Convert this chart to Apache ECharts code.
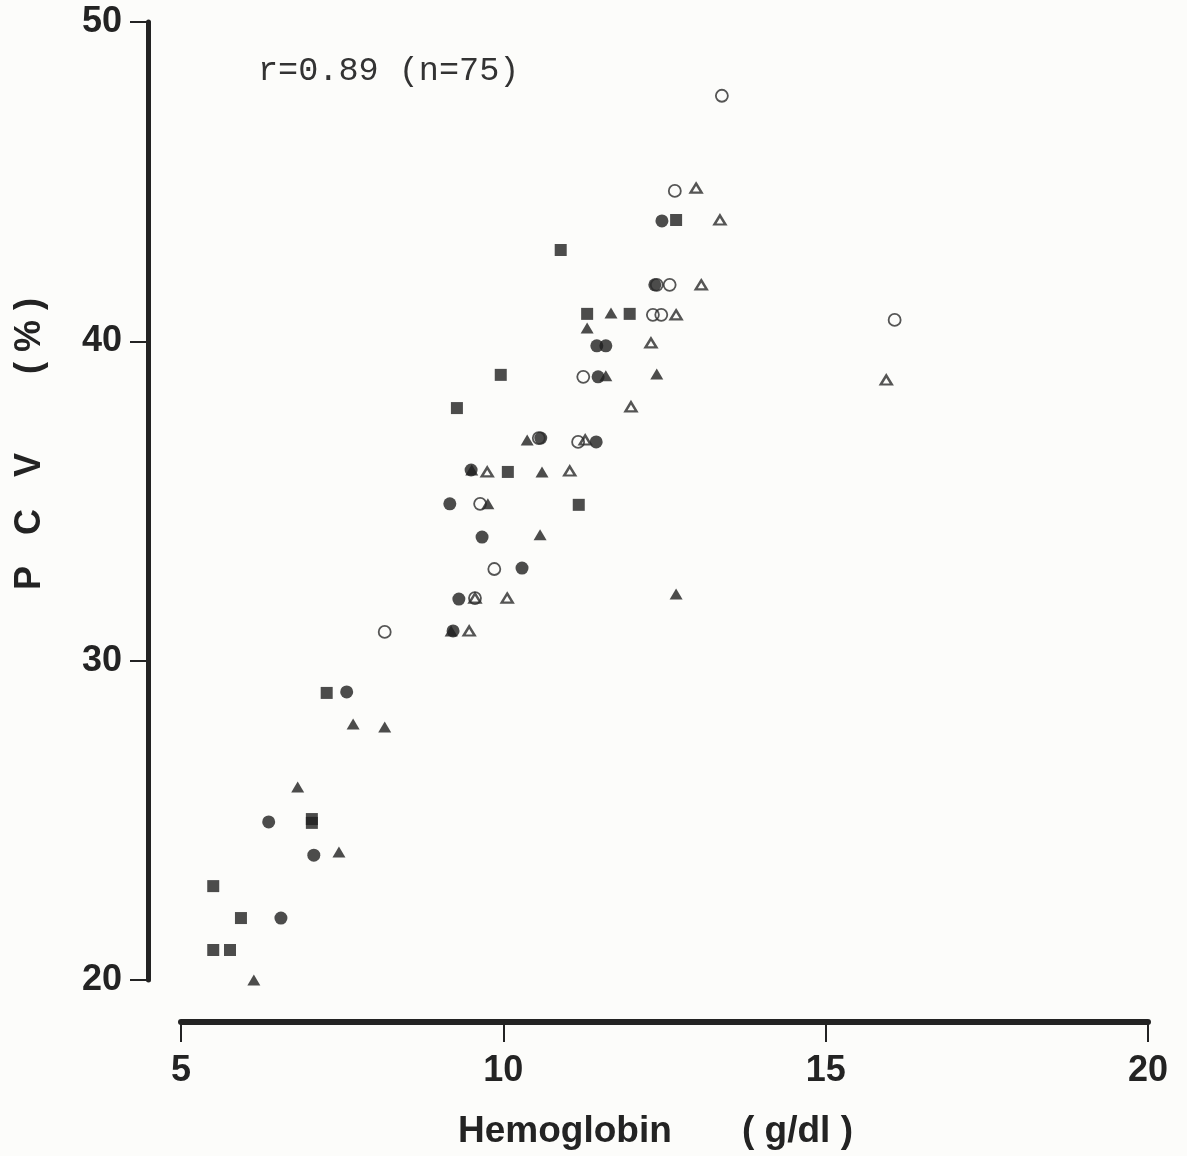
<!DOCTYPE html>
<html>
<head>
<meta charset="utf-8">
<script src="https://cdn.jsdelivr.net/npm/echarts@6/dist/echarts.min.js"></script>
<style>
  html, body { margin: 0; padding: 0; background: #fcfcfa; }
  #chart { width: 1187px; height: 1156px; }
</style>
</head>
<body>
<div id="chart"></div>
<script>
// Tick labels
const xTicks = [5, 10, 15, 20];
const yTicks = [20, 30, 40, 50];

// Filled squares
const sqHb  = [5.50, 5.50, 5.76, 5.93, 7.03, 7.03, 7.26, 9.28, 9.96, 10.07, 10.89, 11.17, 11.30, 11.96, 12.68];
const sqPcv = [22.94, 20.94, 20.94, 21.94, 25.04, 24.92, 28.99, 37.91, 38.95, 35.91, 42.86, 34.88, 40.86, 40.86, 43.80];

// Filled circles
const fcHb  = [6.36, 6.55, 7.06, 7.57, 9.17, 9.22, 9.31, 9.50, 9.67, 10.29, 10.58, 11.44, 11.45, 11.59, 11.47, 12.35, 12.46];
const fcPcv = [24.95, 21.94, 23.91, 29.02, 34.91, 30.93, 31.93, 35.97, 33.87, 32.90, 36.97, 36.85, 39.86, 39.86, 38.89, 41.77, 43.77];

// Filled triangles
const ftHb  = [6.13, 6.81, 7.45, 7.67, 8.16, 9.19, 9.51, 9.76, 10.37, 10.57, 10.60, 11.30, 11.59, 11.67, 12.38, 12.68];
const ftPcv = [20.00, 26.04, 24.01, 28.02, 27.92, 30.93, 35.97, 34.91, 36.91, 33.94, 35.91, 40.42, 38.92, 40.89, 38.98, 32.09];

// Open circles
const ocHb  = [8.16, 9.56, 9.64, 9.86, 10.55, 11.16, 11.24, 12.32, 12.45, 12.38, 12.58, 12.66, 13.39, 16.07];
const ocPcv = [30.90, 31.96, 34.91, 32.87, 36.97, 36.85, 38.89, 40.83, 40.83, 41.77, 41.77, 44.71, 47.69, 40.67];

// Open triangles
const otHb  = [9.47, 9.56, 9.75, 10.06, 11.03, 11.27, 11.98, 12.29, 12.68, 13.07, 12.99, 13.36, 15.94];
const otPcv = [30.93, 31.96, 35.91, 31.96, 35.94, 36.91, 37.95, 39.95, 40.83, 41.77, 44.80, 43.80, 38.79];

const annotation = 'r=0.89 (n=75)';

const zip = (a, b) => a.map((v, i) => [v, b[i]]);
const ink = '#232323';
const markInk = '#1f1f1f';
const labelFont = '"Liberation Sans", Arial, sans-serif';

const chart = echarts.init(document.getElementById('chart'), null, { renderer: 'canvas' });

chart.setOption({
  backgroundColor: '#fcfcfa',
  animation: false,
  grid: { left: 181, right: 39, top: 22, bottom: 176 },
  xAxis: {
    type: 'value', min: xTicks[0], max: xTicks[xTicks.length - 1], interval: 5,
    offset: 42,
    axisLine: { show: true, onZero: false, lineStyle: { color: ink, width: 6 } },
    axisTick: { show: true, inside: false, length: 20, lineStyle: { color: ink, width: 2 } },
    axisLabel: { margin: 31, color: ink, fontSize: 36, fontWeight: 'bold', fontFamily: labelFont },
    splitLine: { show: false }
  },
  yAxis: {
    type: 'value', min: yTicks[0], max: yTicks[yTicks.length - 1], interval: 10,
    offset: 33,
    axisLine: { show: true, onZero: false, lineStyle: { color: ink, width: 5 } },
    axisTick: { show: true, inside: false, length: 18, lineStyle: { color: ink, width: 2 } },
    axisLabel: { margin: 26, color: ink, fontSize: 36, fontWeight: 'bold', fontFamily: labelFont },
    splitLine: { show: false }
  },
  graphic: [
    { type: 'text', left: 258, top: 54, style: { text: annotation, fill: '#333', font: '33.5px "Liberation Mono", "Courier New", monospace' } },
    { type: 'text', x: 458, y: 1113, style: { text: 'Hemoglobin', fill: ink, font: 'bold 37px ' + labelFont } },
    { type: 'text', x: 742, y: 1113, style: { text: '( g/dl )', fill: ink, font: 'bold 37px ' + labelFont } },
    { type: 'text', x: 30, y: 578, rotation: Math.PI / 2, style: { text: 'P', fill: ink, font: 'bold 36px ' + labelFont, align: 'center', verticalAlign: 'middle' } },
    { type: 'text', x: 30, y: 522, rotation: Math.PI / 2, style: { text: 'C', fill: ink, font: 'bold 36px ' + labelFont, align: 'center', verticalAlign: 'middle' } },
    { type: 'text', x: 30, y: 465, rotation: Math.PI / 2, style: { text: 'V', fill: ink, font: 'bold 36px ' + labelFont, align: 'center', verticalAlign: 'middle' } },
    { type: 'text', x: 30, y: 336, rotation: Math.PI / 2, style: { text: '( % )', fill: ink, font: 'bold 36px ' + labelFont, align: 'center', verticalAlign: 'middle' } }
  ],
  series: [
    { type: 'scatter', clip: false, symbol: 'rect', symbolSize: 12, data: zip(sqHb, sqPcv),
      itemStyle: { color: markInk } },
    { type: 'scatter', clip: false, symbol: 'circle', symbolSize: 13, data: zip(fcHb, fcPcv),
      itemStyle: { color: markInk } },
    { type: 'scatter', clip: false, symbol: 'triangle', symbolSize: [13, 11], data: zip(ftHb, ftPcv),
      itemStyle: { color: markInk } },
    { type: 'scatter', clip: false, symbol: 'circle', symbolSize: 12, data: zip(ocHb, ocPcv),
      itemStyle: { color: 'rgba(0,0,0,0)', borderColor: '#2a2a2a', borderWidth: 1.8 } },
    { type: 'scatter', clip: false, symbol: 'triangle', symbolSize: [11, 9], data: zip(otHb, otPcv),
      itemStyle: { color: 'rgba(0,0,0,0)', borderColor: '#2a2a2a', borderWidth: 2.4 } }
  ]
});
</script>
</body>
</html>
